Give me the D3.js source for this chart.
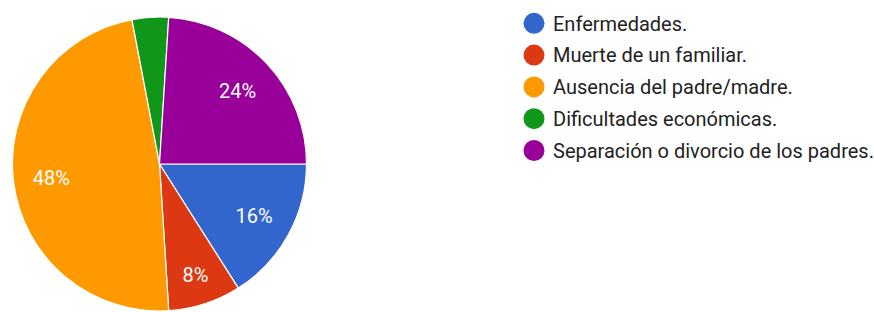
<!DOCTYPE html>
<html><head><meta charset="utf-8">
<script src="https://cdn.jsdelivr.net/npm/d3@7"></script>
<style>body{margin:0;background:#fff}svg{display:block}</style>
</head><body>
<svg id="c" width="874" height="312"></svg>
<script>
const categories = ["Enfermedades.", "Muerte de un familiar.", "Ausencia del padre/madre.", "Dificultades económicas.", "Separación o divorcio de los padres."];
const values = [16, 8, 48, 4, 24];
const colors = ["#3366cc", "#dc3912", "#ff9900", "#109618", "#990099"];

const svg = d3.select("#c");
const cx = 159.5, cy = 164, R = 147;
const pie = d3.pie().sort(null).startAngle(Math.PI/2).endAngle(Math.PI/2 + 2*Math.PI)(values);
const arc = d3.arc().innerRadius(0).outerRadius(R);
const labelR = [108, 116, 109, 108, 107];
const g = svg.append("g").attr("transform", `translate(${cx},${cy})`);
g.selectAll("path").data(pie).join("path")
  .attr("d", arc).attr("fill", (d,i)=>colors[i])
  .attr("stroke", "#fff").attr("stroke-width", 1.2);
g.selectAll("text").data(pie).join("text")
  .attr("transform", (d,i) => { const c = d3.arc().innerRadius(labelR[i]).outerRadius(labelR[i]).centroid(d); return `translate(${c[0]},${c[1]})`; })
  .attr("text-anchor", "middle").attr("dy", "0.36em")
  .attr("font-family", "Roboto, Arial, sans-serif").attr("font-size", 20)
  .attr("fill", "#fff")
  .text(d => d.data >= 5 ? d.data + "%" : "");

const lg = svg.append("g");
const items = lg.selectAll("g").data(categories).join("g")
  .attr("transform", (d,i) => `translate(534,${23.3 + i*31.8})`);
items.append("circle").attr("r", 10.5).attr("fill", (d,i)=>colors[i]);
items.append("text").attr("x", 19).attr("dy", "0.36em")
  .attr("font-family", "Roboto, Arial, sans-serif").attr("font-size", 20)
  .attr("fill", "#222").text(d => d);
</script>
</body></html>
